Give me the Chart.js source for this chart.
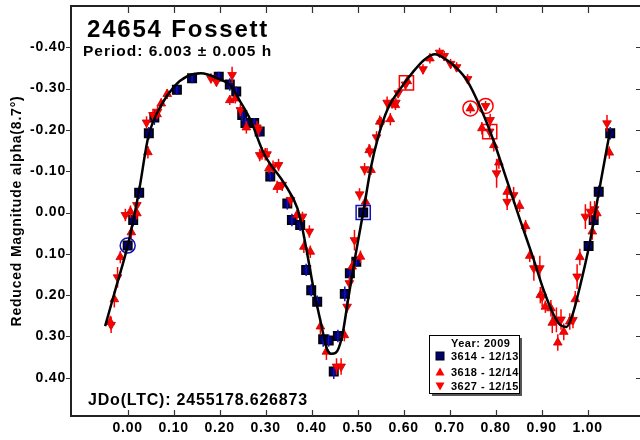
<!DOCTYPE html>
<html><head><meta charset="utf-8">
<script src="https://cdn.jsdelivr.net/npm/chart.js@4/dist/chart.umd.min.js"></script>
<style>html,body{margin:0;padding:0;background:#fff;overflow:hidden;width:640px;height:440px}canvas{display:block}</style>
</head><body>
<canvas id="c" width="644" height="440"></canvas>
<script>
// ---- data ----
const chartTitle = '24654 Fossett';
const periodText = 'Period: 6.003 ± 0.005 h';
const epochText = 'JDo(LTC): 2455178.626873';
const yAxisTitle = 'Reduced Magnitude alpha(8.7°)';
const legendTitle = 'Year: 2009';
const seriesNames = ['3614 - 12/13', '3618 - 12/14', '3627 - 12/15'];

const xTicks = [0.00, 0.10, 0.20, 0.30, 0.40, 0.50, 0.60, 0.70, 0.80, 0.90, 1.00];
const yTicks = [-0.40, -0.30, -0.20, -0.10, 0.00, 0.10, 0.20, 0.30, 0.40];

// 3614 - 12/13 (squares)
const sqX = [0.000,0.012,0.025,0.046,0.058,0.107,0.140,0.198,0.222,0.236,0.249,0.256,0.275,0.287,0.310,0.347,0.357,0.375,0.388,0.399,0.412,0.425,0.437,0.448,0.457,0.472,0.483,0.497,0.512,1.002,1.013,1.024,1.049];
const sqY = [0.080,0.018,-0.048,-0.192,-0.230,-0.297,-0.325,-0.329,-0.310,-0.293,-0.236,-0.217,-0.217,-0.196,-0.087,-0.022,0.018,0.030,0.139,0.188,0.216,0.307,0.310,0.385,0.299,0.197,0.147,0.119,0.000,0.081,0.018,-0.050,-0.192];
const sqE = [0.012,0.015,0.015,0.015,0.018,0.012,0.012,0.012,0.015,0.012,0.015,0.012,0.012,0.012,0.012,0.015,0.015,0.015,0.015,0.015,0.015,0.018,0.015,0.018,0.015,0.018,0.015,0.012,0.012,0.012,0.015,0.015,0.015];

// 3618 - 12/14 (up triangles)
const upX = [-0.038,-0.029,-0.016,0.006,0.008,0.020,0.044,0.064,0.073,0.086,0.222,0.234,0.258,0.292,0.299,0.307,0.325,0.368,0.383,0.397,0.419,0.432,0.471,0.488,0.506,0.517,0.525,0.529,0.548,0.571,0.575,0.582,0.608,0.657,0.745,0.770,0.796,0.807,0.825,0.852,0.865,0.874,0.897,0.908,0.920,0.923,0.935,0.948,0.961,0.973,0.983,1.010,1.020,1.047];
const upY = [0.265,0.210,0.108,-0.002,0.048,0.002,-0.146,-0.238,-0.264,-0.287,-0.272,-0.276,-0.206,-0.143,-0.141,-0.107,-0.062,0.006,0.083,0.095,0.276,0.337,0.297,0.131,0.107,-0.026,-0.151,-0.103,-0.220,-0.226,-0.264,-0.260,-0.318,-0.373,-0.252,-0.204,-0.163,-0.121,-0.050,-0.016,0.033,0.105,0.200,0.228,0.232,0.267,0.315,0.289,0.264,0.210,0.108,0.046,0.002,-0.145];
const upE = [0.015,0.02,0.015,0.015,0.015,0.015,0.015,0.012,0.012,0.012,0.012,0.012,0.015,0.015,0.015,0.012,0.015,0.012,0.015,0.015,0.02,0.02,0.015,0.015,0.015,0.015,0.015,0.012,0.015,0.015,0.012,0.012,0.012,0.012,0.012,0.015,0.015,0.015,0.015,0.015,0.015,0.015,0.02,0.015,0.02,0.025,0.02,0.02,0.02,0.02,0.02,0.02,0.015,0.015];

// 3627 - 12/15 (down triangles)
const dnX = [-0.036,-0.022,-0.005,0.020,0.041,0.055,0.065,0.181,0.193,0.227,0.245,0.281,0.284,0.287,0.303,0.316,0.328,0.336,0.354,0.380,0.395,0.454,0.464,0.477,0.482,0.493,0.504,0.515,0.527,0.541,0.551,0.564,0.583,0.588,0.604,0.642,0.678,0.688,0.702,0.715,0.739,0.778,0.788,0.787,0.802,0.825,0.839,0.883,0.896,0.901,0.932,0.942,0.968,0.977,0.995,1.006,1.015,1.042];
const dnY = [0.272,0.157,0.006,-0.018,-0.218,-0.236,-0.244,-0.325,-0.317,-0.333,-0.248,-0.206,-0.200,-0.139,-0.141,-0.111,-0.115,-0.067,-0.030,0.010,0.046,0.373,0.373,0.228,0.171,0.067,-0.044,-0.105,-0.148,-0.182,-0.216,-0.266,-0.266,-0.289,-0.310,-0.347,-0.387,-0.379,-0.360,-0.352,-0.323,-0.258,-0.224,-0.196,-0.095,-0.026,-0.042,0.135,0.135,0.204,0.260,0.259,0.260,0.155,0.010,-0.002,-0.008,-0.216];
const dnE = [0.02,0.025,0.015,0.015,0.015,0.015,0.015,0.012,0.012,0.02,0.015,0.015,0.015,0.015,0.015,0.015,0.015,0.015,0.015,0.012,0.015,0.02,0.02,0.015,0.015,0.025,0.015,0.015,0.015,0.015,0.015,0.015,0.012,0.012,0.012,0.012,0.012,0.012,0.012,0.012,0.012,0.012,0.015,0.015,0.035,0.02,0.02,0.03,0.03,0.025,0.03,0.025,0.02,0.03,0.03,0.025,0.02,0.02];

// highlighted (first/last) observations
const markX = [0.000, 0.512, 0.606, 0.745, 0.778, 0.787];
const markY = [0.080, 0.000, -0.314, -0.252, -0.258, -0.196];
const markShape = ['circle', 'rect', 'rect', 'circle', 'circle', 'rect'];
const markSeries = [0, 0, 1, 1, 2, 2];

// Fourier fit curve
const fitX = [-0.049,-0.025,0.001,0.024,0.045,0.073,0.101,0.130,0.159,0.195,0.225,0.245,0.267,0.296,0.340,0.369,0.380,0.392,0.405,0.419,0.433,0.443,0.452,0.466,0.480,0.495,0.512,0.528,0.545,0.565,0.593,0.620,0.645,0.668,0.690,0.715,0.737,0.766,0.795,0.824,0.853,0.880,0.905,0.925,0.940,0.954,0.968,0.983,1.004,1.024,1.049];
const fitY = [0.275,0.180,0.076,-0.048,-0.184,-0.260,-0.305,-0.330,-0.337,-0.325,-0.305,-0.268,-0.224,-0.143,-0.071,-0.010,0.040,0.110,0.190,0.262,0.330,0.342,0.340,0.300,0.205,0.105,0.000,-0.105,-0.185,-0.250,-0.300,-0.340,-0.370,-0.383,-0.372,-0.350,-0.321,-0.256,-0.175,-0.079,0.018,0.105,0.190,0.245,0.272,0.277,0.244,0.180,0.076,-0.048,-0.200];

// ---- build ----
const pts = (xs, ys) => xs.map((x, i) => ({x: x, y: ys[i]}));
const FONT = "'Liberation Sans', Arial, sans-serif";
const RED = '#ff0000', NAVY = '#000070', BLUE = '#1010c0';

const plugin = {
  id: 'lcDecor',
  beforeDraw(chart) { chart.ctx.letterSpacing = '0.8px'; },
  afterDatasetDraw(chart, args) {
    const ds = chart.data.datasets[args.index];
    if (!ds.err) return;
    const ys = chart.scales.y, ctx = chart.ctx;
    ctx.save();
    ctx.strokeStyle = ds.errColor; ctx.lineWidth = 1.5;
    args.meta.data.forEach((p, i) => {
      const d = ds.data[i];
      ctx.beginPath();
      ctx.moveTo(p.x, ys.getPixelForValue(d.y - ds.err[i]));
      ctx.lineTo(p.x, ys.getPixelForValue(d.y + ds.err[i]));
      ctx.stroke();
    });
    ctx.restore();
  },
  afterDraw(chart) {
    const ctx = chart.ctx, a = chart.chartArea, xs = chart.scales.x, ys = chart.scales.y;
    ctx.save();
    ctx.strokeStyle = '#222'; ctx.lineWidth = 2;
    ctx.strokeRect(a.left, a.top, a.right - a.left, a.bottom - a.top);
    ctx.lineWidth = 1.2; ctx.strokeStyle = '#333';
    ctx.beginPath();
    xTicks.forEach(v => {
      const px = Math.round(xs.getPixelForValue(v)) + 0.5;
      ctx.moveTo(px, a.bottom); ctx.lineTo(px, a.bottom - 6);
      ctx.moveTo(px, a.top); ctx.lineTo(px, a.top + 7);
    });
    yTicks.forEach(v => {
      const py = Math.round(ys.getPixelForValue(v)) + 0.5;
      ctx.moveTo(a.left - 5, py); ctx.lineTo(a.left, py);
      ctx.moveTo(a.right, py); ctx.lineTo(a.right - 5, py);
    });
    ctx.stroke();
    ctx.fillStyle = '#000'; ctx.textAlign = 'left'; ctx.textBaseline = 'alphabetic';
    ctx.font = 'bold 24px ' + FONT; ctx.letterSpacing = '1.8px';
    ctx.fillText(chartTitle, 87, 37);
    ctx.font = 'bold 15.5px ' + FONT; ctx.letterSpacing = '1px';
    ctx.fillText(periodText, 83, 56);
    ctx.font = 'bold 16px ' + FONT; ctx.letterSpacing = '0.8px';
    ctx.fillText(epochText, 88, 405);
    const L = 429, T = 335, W = 90, H = 58;
    ctx.fillStyle = '#555'; ctx.fillRect(L + 3, T + 3, W, H);
    ctx.fillStyle = '#fff'; ctx.fillRect(L, T, W, H);
    ctx.strokeStyle = '#000'; ctx.lineWidth = 1; ctx.strokeRect(L + 0.5, T + 0.5, W, H);
    ctx.fillStyle = '#000';
    ctx.font = 'bold 11px ' + FONT; ctx.letterSpacing = '0.5px';
    ctx.textAlign = 'left';
    ctx.fillText(legendTitle, 451, 347);
    const rows = [360, 375.5, 390];
    const mk = [356, 372, 386];
    seriesNames.forEach((n, i) => {
      ctx.fillStyle = '#000';
      ctx.fillText(n, 451, rows[i]);
      const cx = 440, cy = mk[i];
      ctx.beginPath();
      if (i === 0) {
        ctx.fillStyle = NAVY; ctx.fillRect(cx - 4, cy - 4, 8, 8);
        ctx.strokeStyle = '#000'; ctx.strokeRect(cx - 4, cy - 4, 8, 8);
      } else if (i === 1) {
        ctx.fillStyle = RED; ctx.moveTo(cx, cy - 4.5); ctx.lineTo(cx + 4.5, cy + 3.5); ctx.lineTo(cx - 4.5, cy + 3.5); ctx.closePath(); ctx.fill();
      } else {
        ctx.fillStyle = RED; ctx.moveTo(cx, cy + 4.5); ctx.lineTo(cx + 4.5, cy - 3.5); ctx.lineTo(cx - 4.5, cy - 3.5); ctx.closePath(); ctx.fill();
      }
    });
    ctx.restore();
  }
};

const noPad = s => { s.paddingTop = 0; s.paddingBottom = 0; s.paddingLeft = 0; s.paddingRight = 0; };

new Chart(document.getElementById('c'), {
  type: 'scatter',
  data: {
    datasets: [
      { label: 'fit', data: pts(fitX, fitY), showLine: true, pointRadius: 0, borderColor: '#000', borderWidth: 2.5,
        cubicInterpolationMode: 'monotone', order: 0 },
      { label: 'marks', data: pts(markX, markY), pointStyle: markShape,
        pointRadius: markShape.map(s => s === 'rect' ? 10 : 7.5), backgroundColor: 'rgba(0,0,0,0)',
        borderColor: markSeries.map(s => s === 0 ? BLUE : RED), borderWidth: 1.5, order: 1 },
      { label: seriesNames[0], data: pts(sqX, sqY), err: sqE, errColor: BLUE, pointStyle: 'rect', pointRadius: 6,
        backgroundColor: NAVY, borderColor: '#000', borderWidth: 1.5, order: 4 },
      { label: seriesNames[1], data: pts(upX, upY), err: upE, errColor: RED, pointStyle: 'triangle', pointRadius: 5,
        backgroundColor: RED, borderColor: '#c00000', borderWidth: 0.8, order: 3 },
      { label: seriesNames[2], data: pts(dnX, dnY), err: dnE, errColor: RED, pointStyle: 'triangle', rotation: 180, pointRadius: 5,
        backgroundColor: RED, borderColor: '#c00000', borderWidth: 0.8, order: 2 }
    ]
  },
  options: {
    responsive: false, animation: false, devicePixelRatio: 1,
    layout: { autoPadding: false, padding: { left: 0, top: 6, right: 3, bottom: 0 } },
    plugins: { legend: { display: false }, tooltip: { enabled: false } },
    scales: {
      x: {
        type: 'linear', min: -0.1232, max: 1.1159,
        afterBuildTicks: s => { s.ticks = xTicks.map(v => ({value: v})); },
        afterFit: s => { s.height = 24; noPad(s); },
        grid: { display: false, drawTicks: false }, border: { display: false },
        ticks: { padding: 4, color: '#000', font: { family: FONT, size: 14, weight: 'bold' }, callback: v => v.toFixed(2), maxRotation: 0, autoSkip: false }
      },
      y: {
        type: 'linear', reverse: true, min: -0.5, max: 0.4927,
        afterBuildTicks: s => { s.ticks = yTicks.map(v => ({value: v})); },
        afterFit: s => { s.width = 71; noPad(s); },
        grid: { display: false, drawTicks: false }, border: { display: false },
        title: { display: true, text: yAxisTitle, color: '#000', padding: { top: 9, bottom: 0 }, font: { family: FONT, size: 14, weight: 'bold' } },
        ticks: { padding: 5, color: '#000', font: { family: FONT, size: 14, weight: 'bold' }, callback: v => v.toFixed(2), autoSkip: false }
      }
    }
  },
  plugins: [plugin]
});
</script>
</body></html>
